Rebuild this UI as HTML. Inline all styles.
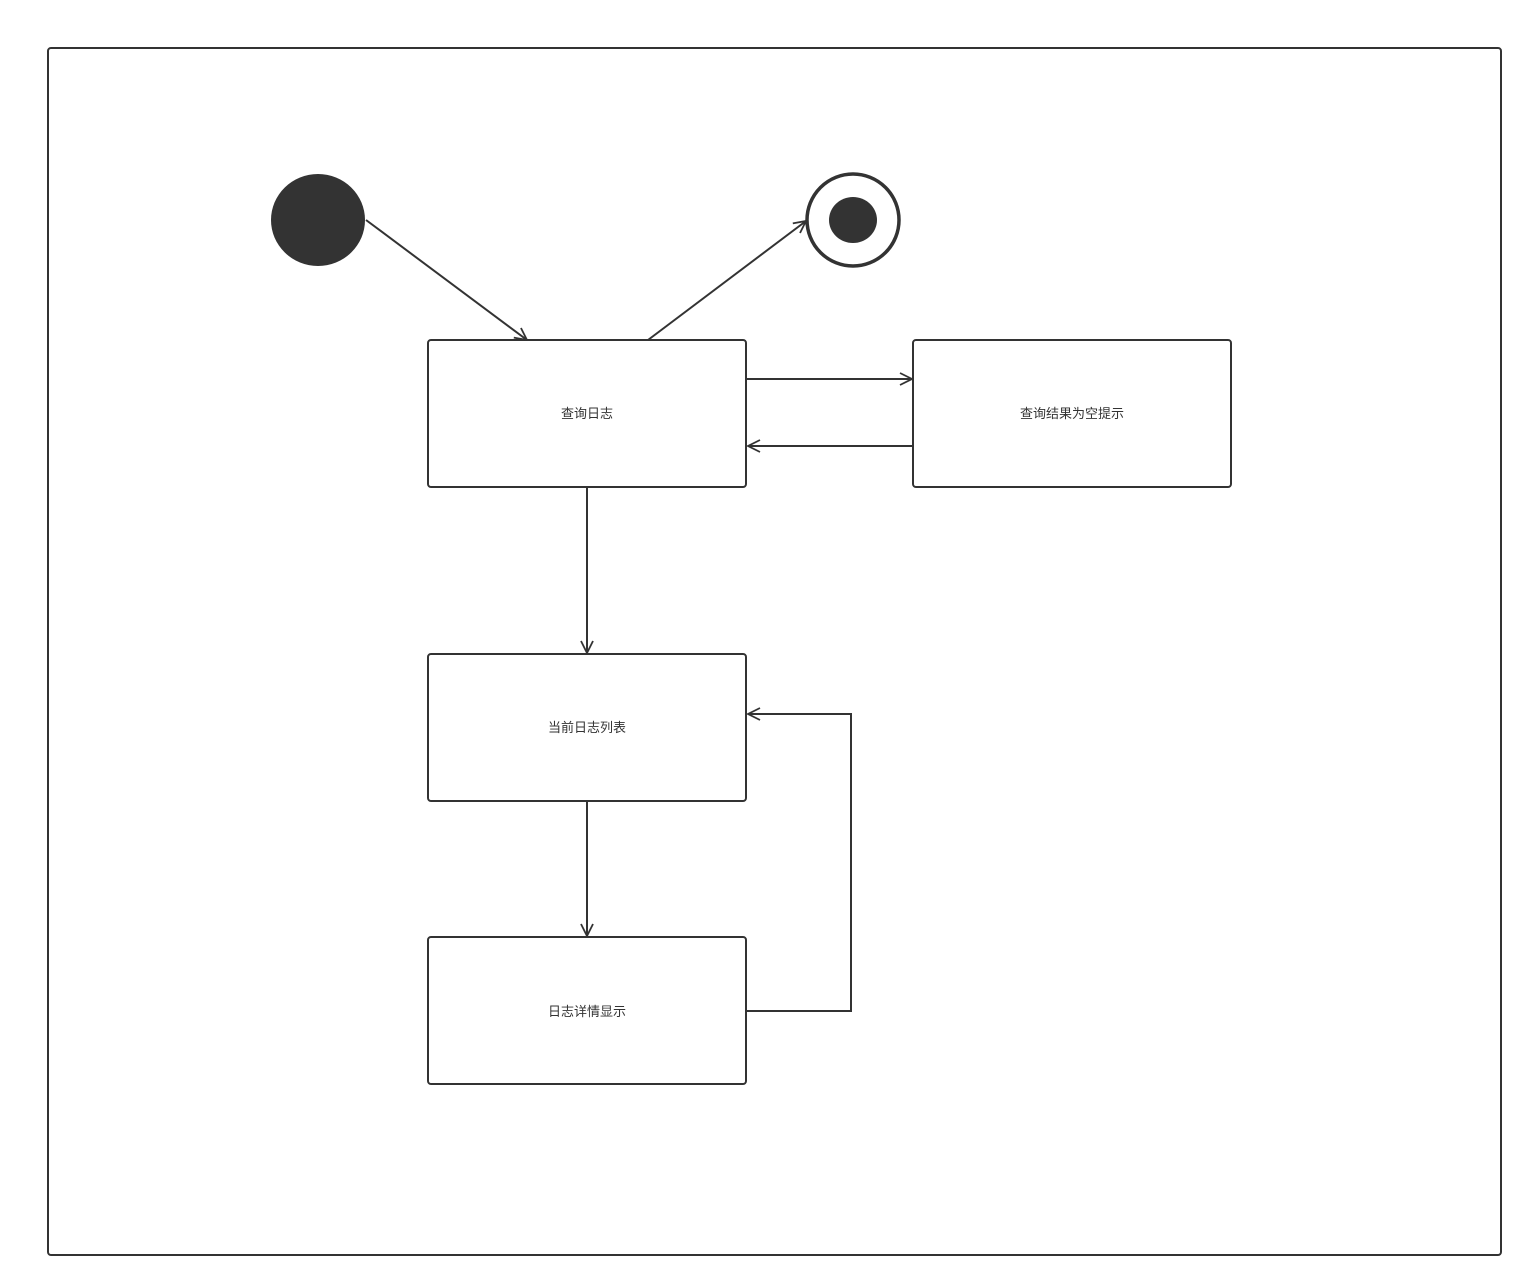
<!DOCTYPE html>
<html><head><meta charset="utf-8">
<style>
html,body{margin:0;padding:0;background:#fff;}
svg{display:block;}
text{font-family:"Liberation Sans","Noto Sans CJK SC",sans-serif;font-size:13px;fill:#333;}
</style></head>
<body>
<svg width="1533" height="1287" viewBox="0 0 1533 1287" xmlns="http://www.w3.org/2000/svg">
<defs>
<marker id="a" viewBox="0 0 14 14" refX="13" refY="7" markerWidth="14" markerHeight="14" markerUnits="userSpaceOnUse" orient="auto">
<path d="M1,1 L13,7 L1,13" fill="none" stroke="#333" stroke-width="1.8"/>
</marker>
</defs>
<rect x="48" y="48" width="1453" height="1207" rx="3" fill="#fff" stroke="#333" stroke-width="2"/>
<ellipse cx="318" cy="220" rx="47" ry="46" fill="#333"/>
<circle cx="853" cy="220" r="46" fill="#fff" stroke="#333" stroke-width="3.5"/>
<ellipse cx="853" cy="220" rx="24" ry="23" fill="#333"/>
<g fill="#fff" stroke="#333" stroke-width="2">
<rect x="428" y="340" width="318" height="147" rx="3"/>
<rect x="913" y="340" width="318" height="147" rx="3"/>
<rect x="428" y="654" width="318" height="147" rx="3"/>
<rect x="428" y="937" width="318" height="147" rx="3"/>
</g>
<text x="587" y="418" text-anchor="middle">查询日志</text>
<text x="1072" y="418" text-anchor="middle">查询结果为空提示</text>
<text x="587" y="732" text-anchor="middle">当前日志列表</text>
<text x="587" y="1016" text-anchor="middle">日志详情显示</text>
<g fill="none" stroke="#333" stroke-width="2" marker-end="url(#a)">
<line x1="366" y1="220" x2="527" y2="340"/>
<line x1="648" y1="340" x2="806" y2="221"/>
<line x1="747" y1="379" x2="912" y2="379"/>
<line x1="912" y1="446" x2="748" y2="446"/>
<line x1="587" y1="488" x2="587" y2="653"/>
<line x1="587" y1="802" x2="587" y2="936"/>
<polyline points="747,1011 851,1011 851,714 748,714"/>
</g>
</svg>
</body></html>
